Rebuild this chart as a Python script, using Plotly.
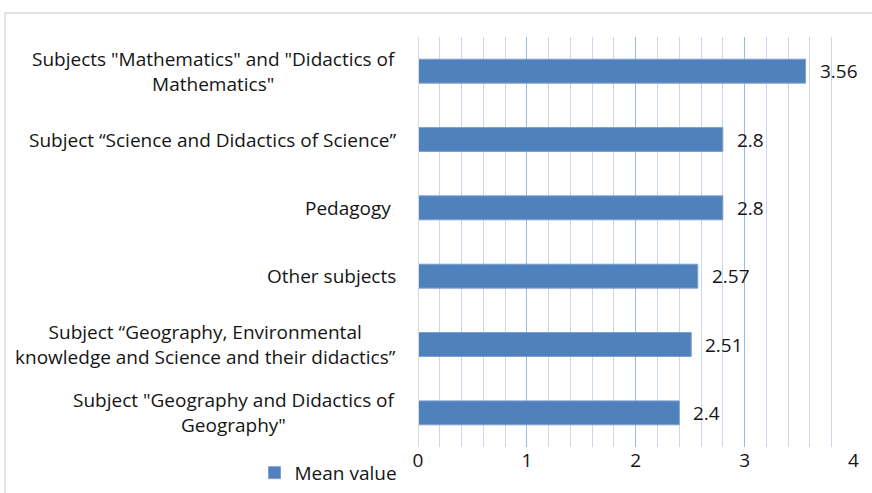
import plotly.graph_objects as go

categories = [
    'Subjects "Mathematics" and "Didactics of<br>Mathematics"',
    'Subject “Science and Didactics of Science”',
    'Pedagogy ',
    'Other subjects',
    'Subject “Geography, Environmental<br>knowledge and Science and their didactics”',
    'Subject "Geography and Didactics of<br>Geography"',
]
values = [3.56, 2.8, 2.8, 2.57, 2.51, 2.4]
series_name = "Mean value"
x_ticks = [0, 1, 2, 3, 4]

FONT = "'Open Sans', Lato, sans-serif"
TXT = "#151515"
BAR = "#4f81bd"
FS = 19

fig = go.Figure()
fig.add_trace(go.Bar(
    y=categories, x=values, orientation="h", name=series_name,
    marker=dict(color=BAR, line=dict(color="#7f9fcf", width=1)),
    width=0.35, showlegend=True,
))

annotations = []
for c, v in zip(categories, values):
    annotations.append(dict(
        x=-0.047, xref="paper", y=c, yref="y", text=c, showarrow=False,
        xanchor="right", yanchor="middle", align="center",
        font=dict(family=FONT, size=FS, color=TXT),
    ))
    annotations.append(dict(
        x=v, xref="x", y=c, yref="y", text=str(v), showarrow=False,
        xanchor="left", yanchor="middle", xshift=12,
        font=dict(family=FONT, size=FS, color=TXT),
    ))

fig.update_layout(
    width=872, height=493,
    margin=dict(l=418, r=18, t=37, b=46, autoexpand=False),
    paper_bgcolor="white", plot_bgcolor="white",
    font=dict(family=FONT, size=FS, color=TXT),
    xaxis=dict(
        range=[0, 4.005], tickvals=x_ticks, showline=False, zeroline=False,
        showgrid=True, gridcolor="#9fb9dd", gridwidth=1,
        minor=dict(dtick=0.2, showgrid=True, gridcolor="#c8d7ec", gridwidth=1),
        tickfont=dict(family=FONT, size=FS, color=TXT), ticks="", ticklen=0,
    ),
    yaxis=dict(
        categoryorder="array", categoryarray=categories[::-1],
        showticklabels=False, showgrid=False, zeroline=False,
        showline=False,
    ),
    legend=dict(
        orientation="h", x=-0.375, xanchor="left", y=-0.063, yanchor="middle",
        font=dict(family=FONT, size=FS, color=TXT), bgcolor="rgba(0,0,0,0)",
        itemwidth=30,
    ),
    annotations=annotations,
    shapes=[
        dict(type="line", xref="x", yref="paper", x0=0, x1=0, y0=0, y1=1,
             line=dict(color="#d9d9d9", width=2)),
        dict(type="rect", xref="paper", yref="paper", x0=-0.947, x1=1.2,
             y0=-0.3, y1=1.0585, line=dict(color="#d9d9d9", width=1.5),
             layer="below"),
    ],
)

fig.write_html("out.html", config={"displayModeBar": False},
               post_script="document.body.style.margin='0';")
